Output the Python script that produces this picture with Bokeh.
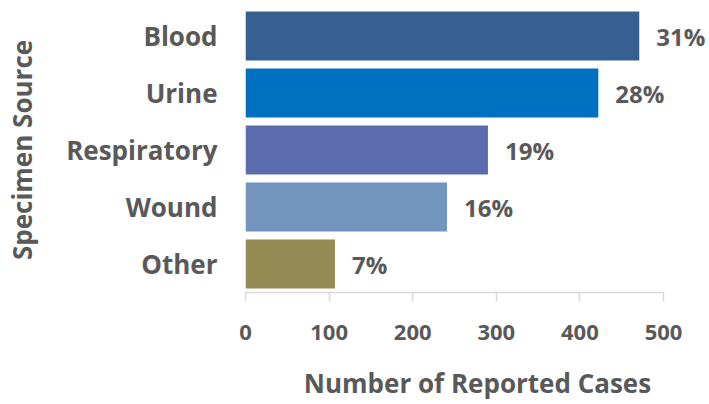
from bokeh.plotting import figure
from bokeh.models import ColumnDataSource, FactorRange, Range1d, LabelSet
from bokeh.core.properties import value
from bokeh.embed import file_html
from bokeh.resources import INLINE

sources = ["Blood", "Urine", "Respiratory", "Wound", "Other"]
cases = [471, 422, 290, 241, 107]
pct_labels = ["31%", "28%", "19%", "16%", "7%"]
colors = ["#376092", "#0070C0", "#5B6CAE", "#7394BF", "#948A54"]

FONT = "Open Sans"
GRAY = "#595959"

src = ColumnDataSource(dict(src=sources, cases=cases, lab=pct_labels, col=colors))

p = figure(width=709, height=404, output_backend="svg", toolbar_location=None,
           y_range=FactorRange(factors=list(reversed(sources)), range_padding=0),
           x_range=Range1d(0, 555), min_border_left=245, min_border_right=0,
           min_border_top=7, min_border_bottom=112)
p.outline_line_color = None
p.grid.grid_line_color = None
p.background_fill_color = "white"

p.hbar(y="src", right="cases", left=0, height=0.86, fill_color="col", line_color=None, source=src)

labels = LabelSet(x="cases", y="src", text="lab", source=src, x_offset=17,
                  text_baseline="middle", text_align="left", text_font=value(FONT),
                  text_font_style="bold", text_font_size="24px", text_color=GRAY)
p.add_layout(labels)

xa = p.xaxis[0]
xa.bounds = (0, 500)
xa.ticker = [0, 100, 200, 300, 400, 500]
xa.axis_line_color = "#D9D9D9"
xa.axis_line_width = 1.5
xa.major_tick_line_color = "#D9D9D9"
xa.major_tick_line_width = 1.5
xa.major_tick_out = 9
xa.major_tick_in = 0
xa.minor_tick_line_color = None
xa.major_label_standoff = 23
xa.major_label_text_font = FONT
xa.major_label_text_font_style = "bold"
xa.major_label_text_font_size = "22px"
xa.major_label_text_color = GRAY
xa.axis_label = "Number of Reported Cases"
xa.axis_label_text_font = FONT
xa.axis_label_text_font_style = "bold"
xa.axis_label_text_font_size = "26px"
xa.axis_label_text_color = GRAY
xa.axis_label_standoff = 22

ya = p.yaxis[0]
ya.axis_line_color = None
ya.major_tick_line_color = None
ya.minor_tick_line_color = None
ya.major_tick_out = 0
ya.major_tick_in = 0
ya.major_label_standoff = 28
ya.major_label_text_font = FONT
ya.major_label_text_font_style = "bold"
ya.major_label_text_font_size = "26px"
ya.major_label_text_color = GRAY
ya.axis_label = "Specimen Source"
ya.axis_label_text_font = FONT
ya.axis_label_text_font_style = "bold"
ya.axis_label_text_font_size = "26px"
ya.axis_label_text_color = GRAY
ya.axis_label_standoff = 23

open("out.html", "w").write(file_html(p, INLINE))
